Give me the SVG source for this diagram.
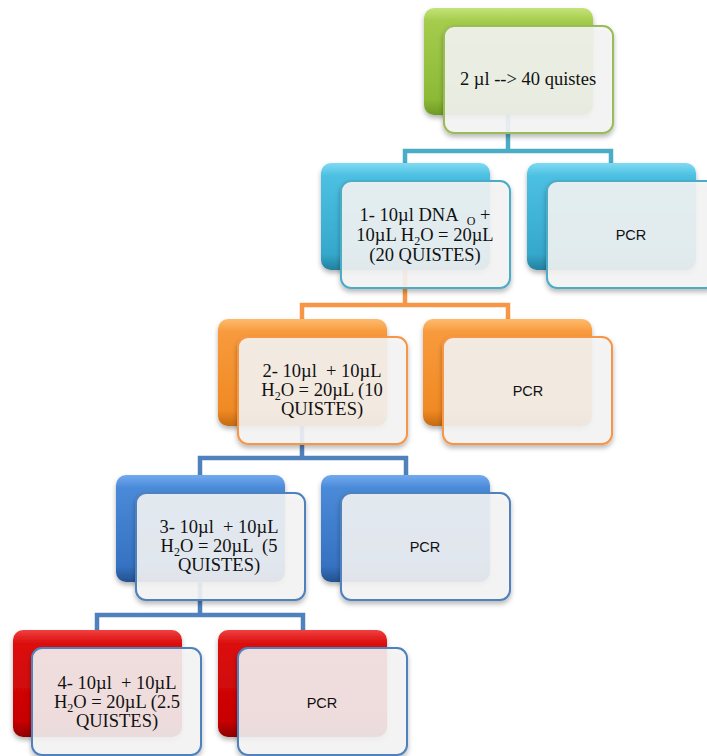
<svg xmlns="http://www.w3.org/2000/svg" width="707" height="756" viewBox="0 0 707 756">
<defs>
  <linearGradient id="gGreen" x1="0" y1="0" x2="0" y2="1">
    <stop offset="0" stop-color="#c4e37a"/><stop offset="0.12" stop-color="#a5cc4c"/><stop offset="0.85" stop-color="#8cba36"/><stop offset="1" stop-color="#6f9a24"/>
  </linearGradient>
  <linearGradient id="gTeal" x1="0" y1="0" x2="0" y2="1">
    <stop offset="0" stop-color="#7fdaf2"/><stop offset="0.12" stop-color="#4cc0e2"/><stop offset="0.85" stop-color="#35a8cc"/><stop offset="1" stop-color="#23809f"/>
  </linearGradient>
  <linearGradient id="gOrange" x1="0" y1="0" x2="0" y2="1">
    <stop offset="0" stop-color="#fdbb6e"/><stop offset="0.12" stop-color="#f89a3c"/><stop offset="0.85" stop-color="#f08a24"/><stop offset="1" stop-color="#c56a12"/>
  </linearGradient>
  <linearGradient id="gBlue" x1="0" y1="0" x2="0" y2="1">
    <stop offset="0" stop-color="#73aaf0"/><stop offset="0.12" stop-color="#4a8ad8"/><stop offset="0.85" stop-color="#3672c2"/><stop offset="1" stop-color="#24528f"/>
  </linearGradient>
  <linearGradient id="gRed" x1="0" y1="0" x2="0" y2="1">
    <stop offset="0" stop-color="#f04040"/><stop offset="0.12" stop-color="#dc1010"/><stop offset="0.85" stop-color="#c80000"/><stop offset="1" stop-color="#8e0000"/>
  </linearGradient>
  <filter id="sh" x="-10%" y="-10%" width="120%" height="130%">
    <feDropShadow dx="0" dy="3" stdDeviation="2.5" flood-color="#000" flood-opacity="0.3"/>
  </filter>
</defs>
<style>
  .back { filter: url(#sh); }
  .front { fill: #f6f6f6; fill-opacity: 0.88; stroke-width: 2; filter: url(#sh); }
  .t { font-family: "Liberation Serif", "Times New Roman", serif; font-size: 18.5px; fill: #111; text-anchor: middle; }
  .pcr { font-family: "Liberation Sans", Arial, sans-serif; font-size: 14.5px; fill: #111; text-anchor: middle; }
  .sub { font-size: 12px; }
  .conn { fill: none; stroke-width: 4.5; stroke-linejoin: miter; stroke-linecap: butt; }
</style>

<g id="connectors">
  <path class="conn" stroke="#4bacc6" d="M508,114 V151 M405,163 V151 H611 V163"/>
  <path class="conn" stroke="#f79646" d="M405,270 V305 M302,319 V305 H508 V319"/>
  <path class="conn" stroke="#4f81bd" d="M302,426 V458 M200,475 V458 H406 V475"/>
  <path class="conn" stroke="#4f81bd" d="M200,582 V615 M97,630 V615 H303 V630"/>
</g>

<g id="n0">
  <rect class="back" x="424" y="8" width="169" height="107" rx="10" fill="url(#gGreen)"/>
  <rect class="front" x="444" y="26" width="169" height="107" rx="10" stroke="#9bbb59"/>
  <text class="t" x="528" y="85">2 µl --&gt; 40 quistes</text>
</g>

<g id="n1">
  <rect class="back" x="321" y="163" width="169" height="107" rx="10" fill="url(#gTeal)"/>
  <rect class="front" x="341" y="181" width="169" height="107" rx="10" stroke="#4bacc6"/>
  <text class="t" xml:space="preserve"><tspan x="425" y="221">1- 10µl DNA  <tspan class="sub" dy="3.5">O</tspan><tspan dy="-3.5"> +</tspan></tspan><tspan x="425" y="241">10µL H<tspan class="sub" dy="3.5">2</tspan><tspan dy="-3.5">O = 20µL</tspan></tspan><tspan x="425" y="261">(20 QUISTES)</tspan></text>
</g>

<g id="p1">
  <rect class="back" x="527" y="163" width="169" height="107" rx="10" fill="url(#gTeal)"/>
  <rect class="front" x="547" y="181" width="169" height="107" rx="10" stroke="#4bacc6"/>
  <text class="pcr" x="631" y="240">PCR</text>
</g>

<g id="n2">
  <rect class="back" x="218" y="319" width="169" height="107" rx="10" fill="url(#gOrange)"/>
  <rect class="front" x="238" y="337" width="169" height="107" rx="10" stroke="#f79646"/>
  <text class="t" xml:space="preserve"><tspan x="322" y="377">2- 10µl  + 10µL</tspan><tspan x="322" y="396">H<tspan class="sub" dy="3.5">2</tspan><tspan dy="-3.5">O = 20µL (10</tspan></tspan><tspan x="322" y="415">QUISTES)</tspan></text>
</g>

<g id="p2">
  <rect class="back" x="423" y="319" width="169" height="107" rx="10" fill="url(#gOrange)"/>
  <rect class="front" x="443" y="337" width="169" height="107" rx="10" stroke="#f79646"/>
  <text class="pcr" x="528" y="396">PCR</text>
</g>

<g id="n3">
  <rect class="back" x="116" y="475" width="169" height="107" rx="10" fill="url(#gBlue)"/>
  <rect class="front" x="136" y="493" width="169" height="107" rx="10" stroke="#4f81bd"/>
  <text class="t" xml:space="preserve"><tspan x="219" y="533">3- 10µl  + 10µL</tspan><tspan x="219" y="552">H<tspan class="sub" dy="3.5">2</tspan><tspan dy="-3.5">O = 20µL  (5</tspan></tspan><tspan x="219" y="571">QUISTES)</tspan></text>
</g>

<g id="p3">
  <rect class="back" x="321" y="475" width="169" height="107" rx="10" fill="url(#gBlue)"/>
  <rect class="front" x="341" y="493" width="169" height="107" rx="10" stroke="#4f81bd"/>
  <text class="pcr" x="425" y="552">PCR</text>
</g>

<g id="n4">
  <rect class="back" x="13" y="630" width="169" height="107" rx="10" fill="url(#gRed)"/>
  <rect class="front" x="32" y="648" width="169" height="107" rx="10" stroke="#4f81bd"/>
  <text class="t" xml:space="preserve"><tspan x="117" y="689">4- 10µl  + 10µL</tspan><tspan x="117" y="708">H<tspan class="sub" dy="3.5">2</tspan><tspan dy="-3.5">O = 20µL (2.5</tspan></tspan><tspan x="117" y="727">QUISTES)</tspan></text>
</g>

<g id="p4">
  <rect class="back" x="218" y="630" width="169" height="107" rx="10" fill="url(#gRed)"/>
  <rect class="front" x="238" y="648" width="169" height="107" rx="10" stroke="#4f81bd"/>
  <text class="pcr" x="322" y="708">PCR</text>
</g>
</svg>
